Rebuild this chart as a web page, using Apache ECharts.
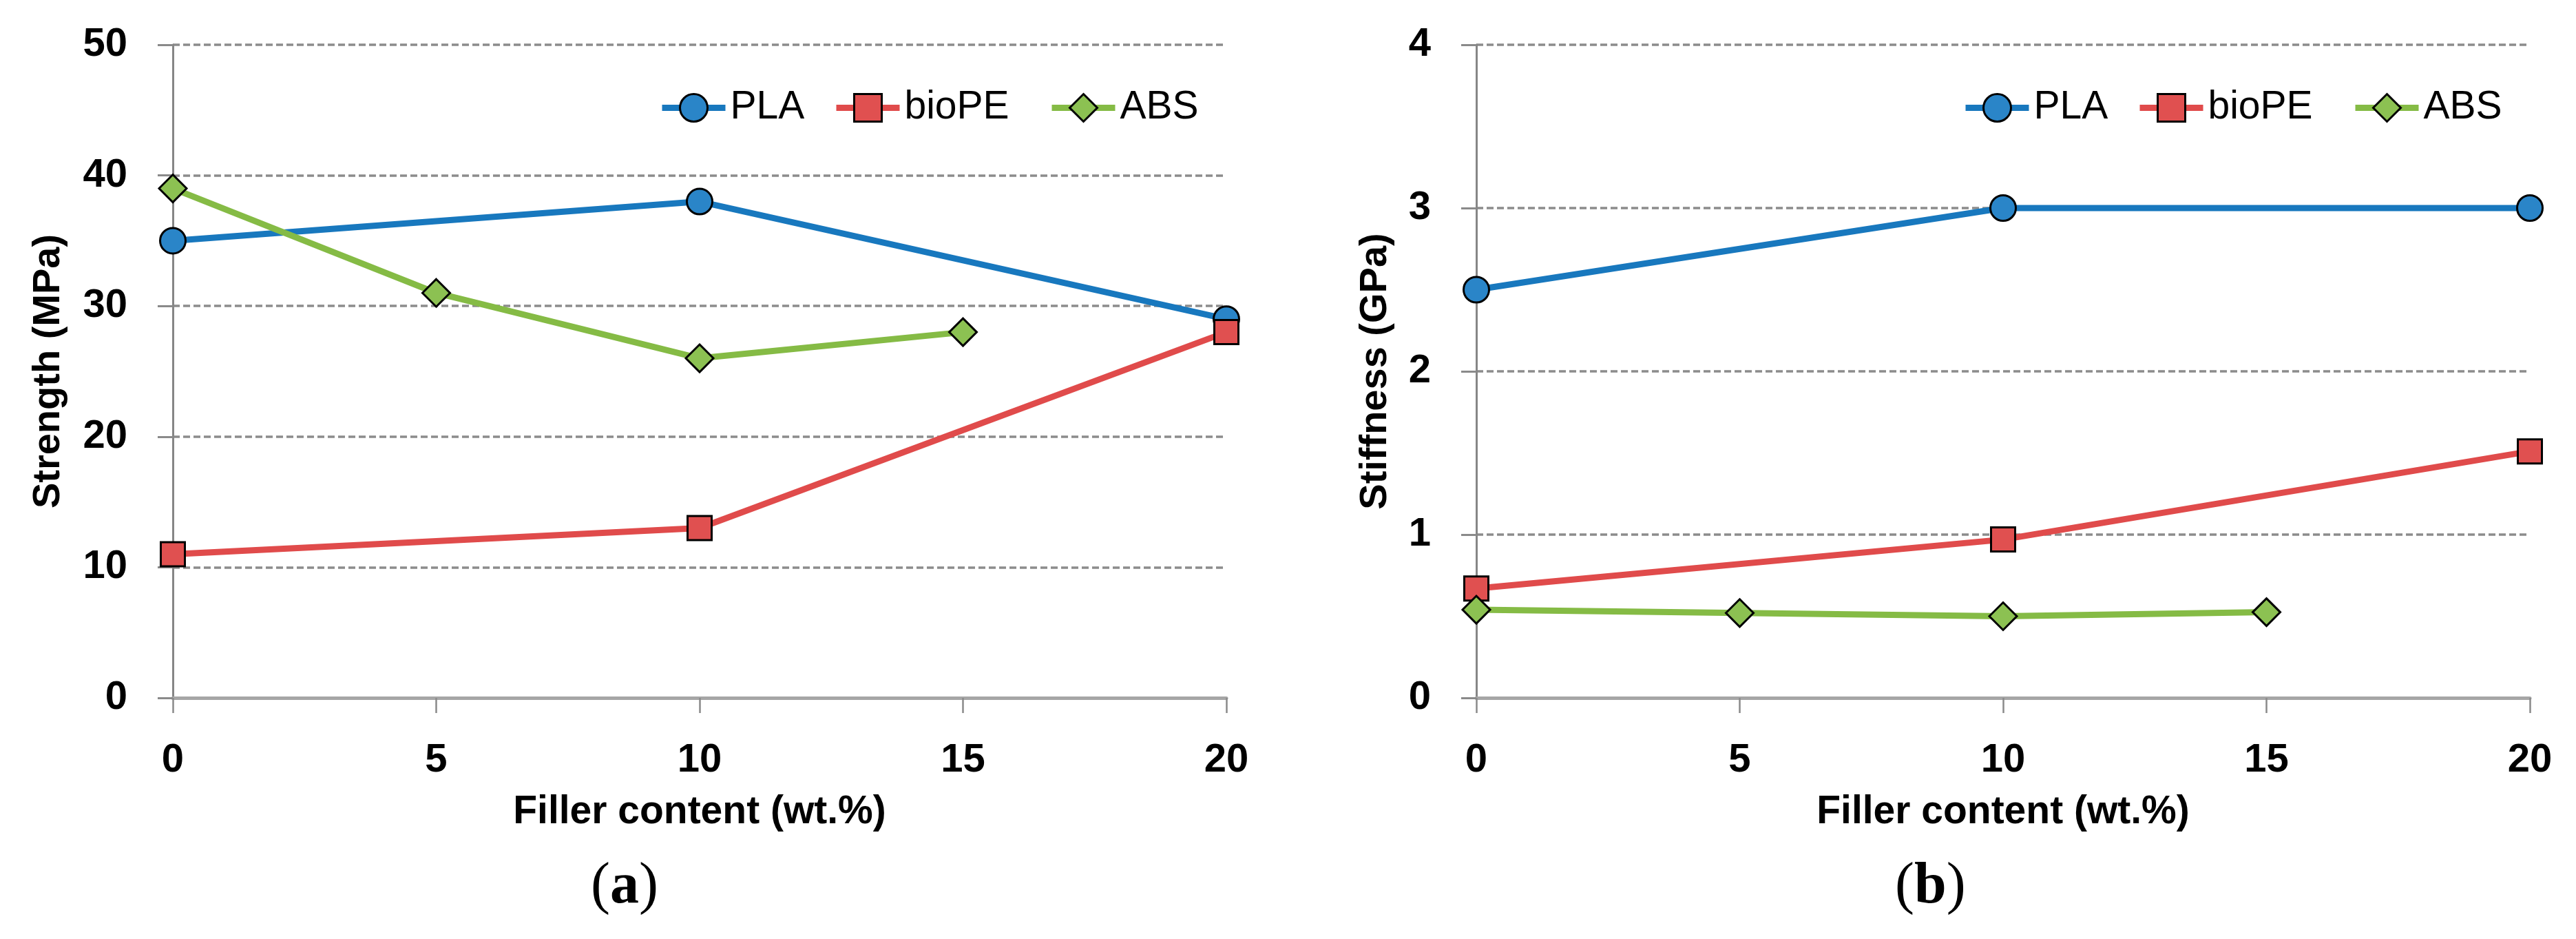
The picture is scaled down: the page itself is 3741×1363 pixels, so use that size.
<!DOCTYPE html>
<html>
<head>
<meta charset="utf-8">
<script src="https://cdn.jsdelivr.net/npm/echarts@6/dist/echarts.min.js"></script>
<style>
html,body{margin:0;padding:0;background:#fff;}
#c{width:3741px;height:1363px;}
</style>
</head>
<body>
<div id="c"></div>
<script>
// ---- data ----
const seriesNames = ['PLA', 'bioPE', 'ABS'];
const xPLA = [0, 10, 20];
const xBioPE = [0, 10, 20];
const xABS = [0, 5, 10, 15];
const strengthPLA = [35, 38, 29];
const strengthBioPE = [11, 13, 28];
const strengthABS = [39, 31, 26, 28];
const stiffnessPLA = [2.5, 3.0, 3.0];
const stiffnessBioPE = [0.67, 0.97, 1.51];
const stiffnessABS = [0.54, 0.52, 0.50, 0.525];
const xTicks = [0, 5, 10, 15, 20];
const strengthTicks = [0, 10, 20, 30, 40, 50];
const stiffnessTicks = [0, 1, 2, 3, 4];
const xTitle = 'Filler content (wt.%)';
const yTitles = ['Strength (MPa)', 'Stiffness (GPa)'];
const panelLabels = ['a', 'b'];

// ---- styles ----
const FONT = '"Liberation Sans", Arial, sans-serif';
const styles = {
  PLA:   { line: '#1878be', fill: '#2a85c8', symbol: 'circle',  size: 37 },
  bioPE: { line: '#e04b4b', fill: '#e05050', symbol: 'rect',    size: 35 },
  ABS:   { line: '#85bb45', fill: '#8cc152', symbol: 'diamond', size: 40 }
};
const zip = (xs, ys) => xs.map((x, i) => [x, ys[i]]);

const chart = echarts.init(document.getElementById('c'), null, { renderer: 'canvas' });

const gridLefts = [251, 2144];
const gridW = 1530, gridTop = 65, gridH = 948;
const yMax = [strengthTicks[strengthTicks.length - 1], stiffnessTicks[stiffnessTicks.length - 1]];
const yInt = [strengthTicks[1] - strengthTicks[0], stiffnessTicks[1] - stiffnessTicks[0]];
const yNameGap = [152, 118];

const grids = gridLefts.map(l => ({ left: l, top: gridTop, width: gridW, height: gridH, containLabel: false }));

const xAxes = gridLefts.map((l, i) => ({
  gridIndex: i, type: 'value', min: xTicks[0], max: xTicks[xTicks.length - 1], interval: xTicks[1] - xTicks[0],
  name: xTitle, nameLocation: 'middle', nameGap: 138,
  nameTextStyle: { fontFamily: FONT, fontWeight: 'bold', fontSize: 57, color: '#000' },
  axisLine: { show: true, lineStyle: { color: '#a6a6a6', width: 5 } },
  axisTick: { show: true, length: 22, lineStyle: { color: '#8a8a8a', width: 2.5 } },
  axisLabel: { margin: 62, fontFamily: FONT, fontWeight: 'bold', fontSize: 58, color: '#000' },
  splitLine: { show: false }
}));

const yAxes = gridLefts.map((l, i) => ({
  gridIndex: i, type: 'value', min: 0, max: yMax[i], interval: yInt[i],
  name: yTitles[i], nameLocation: 'middle', nameGap: yNameGap[i], nameRotate: 90,
  nameTextStyle: { fontFamily: FONT, fontWeight: 'bold', fontSize: 56, color: '#000' },
  axisLine: { show: true, lineStyle: { color: '#868686', width: 3 } },
  axisTick: { show: true, length: 22, lineStyle: { color: '#8a8a8a', width: 3 } },
  axisLabel: { margin: 66, fontFamily: FONT, fontWeight: 'bold', fontSize: 58, color: '#000' },
  splitLine: { show: true, showMinLine: false, lineStyle: { color: '#8c8c8c', width: 3.5, type: [10, 5] } }
}));

const panelData = [
  { PLA: zip(xPLA, strengthPLA), bioPE: zip(xBioPE, strengthBioPE), ABS: zip(xABS, strengthABS) },
  { PLA: zip(xPLA, stiffnessPLA), bioPE: zip(xBioPE, stiffnessBioPE), ABS: zip(xABS, stiffnessABS) }
];

const series = [];
panelData.forEach((pd, i) => {
  seriesNames.forEach(n => {
    const s = styles[n];
    series.push({
      name: n, type: 'line', xAxisIndex: i, yAxisIndex: i, data: pd[n],
      symbol: s.symbol, symbolSize: s.size, showAllSymbol: true, animation: false,
      lineStyle: { color: s.line, width: 9 },
      itemStyle: { color: s.fill, borderColor: '#000', borderWidth: 3 },
      emphasis: { disabled: true }
    });
  });
});

// one legend per item so each sits where it does in the figure
const legendLefts = [957, 1210, 1523];
const legends = [];
gridLefts.forEach((gl, i) => {
  seriesNames.forEach((n, j) => {
    legends.push({
      show: true, data: [n], left: legendLefts[j] + (gl - gridLefts[0]), top: 128,
      orient: 'horizontal', itemWidth: 92, itemHeight: 50, itemGap: 0, padding: 0,
      selectedMode: false,
      lineStyle: { width: 9 },
      itemStyle: { borderColor: '#000', borderWidth: 3 },
      textStyle: { fontFamily: FONT, fontSize: 57, color: '#000', padding: [0, 0, 0, 2] }
    });
  });
});

const graphics = panelLabels.map((p, i) => ({
  type: 'text', left: [858, 2752][i], top: 1246,
  style: {
    text: '{n|(}{b|' + p + '}{n|)}',
    rich: {
      n: { fontFamily: '"Liberation Serif", "Times New Roman", serif', fontSize: 84, color: '#000' },
      b: { fontFamily: '"Liberation Serif", "Times New Roman", serif', fontSize: 84, fontWeight: 'bold', color: '#000' }
    }
  }
}));

chart.setOption({
  animation: false,
  backgroundColor: '#fff',
  grid: grids, xAxis: xAxes, yAxis: yAxes, series: series, legend: legends, graphic: graphics
});
</script>
</body>
</html>
